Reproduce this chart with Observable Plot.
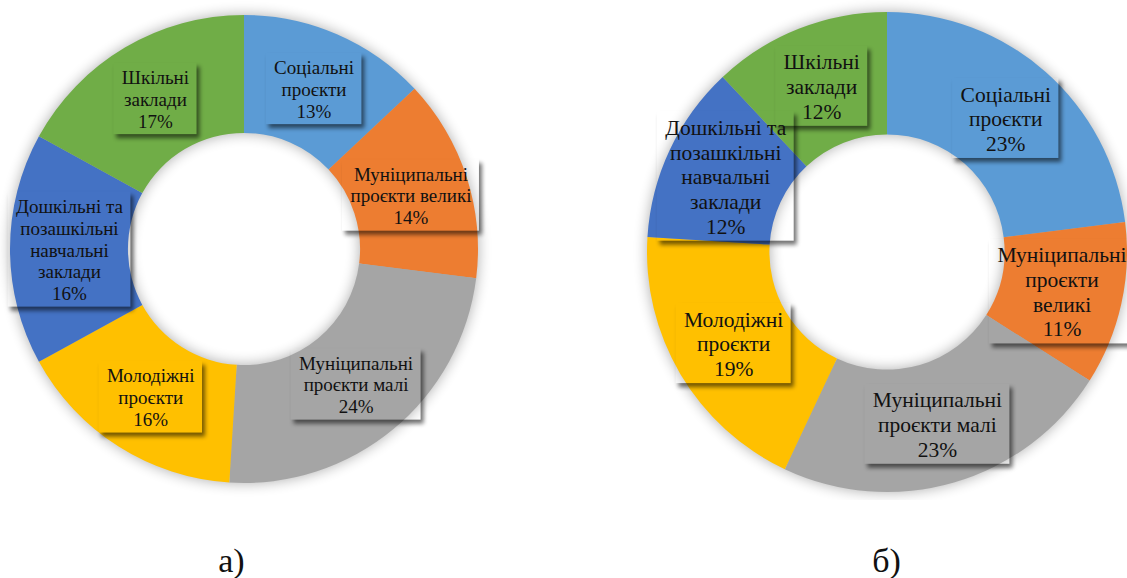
<!DOCTYPE html>
<html>
<head>
<meta charset="utf-8">
<script src="https://cdn.jsdelivr.net/npm/d3@7"></script>
<script src="https://cdn.jsdelivr.net/npm/@observablehq/plot@0.6"></script>
<style>
  html, body { margin: 0; padding: 0; background: #fff; }
  #wrap { position: relative; width: 1127px; height: 578px; overflow: hidden; background: #fff; }
  #wrap svg { position: absolute; top: 0; background: transparent; }
  .cap { position: absolute; width: 200px; text-align: center;
         font-family: "Liberation Serif", "Times New Roman", Tinos, "DejaVu Serif", serif;
         font-size: 34px; line-height: 34px; color: #111; }
</style>
</head>
<body>
<div id="wrap"></div>
<script>
// ---- data ----
const categories = [
  "Соціальні проєкти",
  "Муніципальні проєкти великі",
  "Муніципальні проєкти малі",
  "Молодіжні проєкти",
  "Дошкільні та позашкільні навчальні заклади",
  "Шкільні заклади"
];
const labelLinesA = [
  ["Соціальні", "проєкти"],
  ["Муніципальні", "проєкти великі"],
  ["Муніципальні", "проєкти малі"],
  ["Молодіжні", "проєкти"],
  ["Дошкільні та", "позашкільні", "навчальні", "заклади"],
  ["Шкільні", "заклади"]
];
const labelLinesB = [
  ["Соціальні", "проєкти"],
  ["Муніципальні", "проєкти", "великі"],
  ["Муніципальні", "проєкти малі"],
  ["Молодіжні", "проєкти"],
  ["Дошкільні та", "позашкільні", "навчальні", "заклади"],
  ["Шкільні", "заклади"]
];
const valuesA = [13, 14, 24, 16, 16, 17];
const valuesB = [23, 11, 23, 19, 12, 12];
const colors = ["#5B9BD5", "#ED7D31", "#A5A5A5", "#FFC000", "#4472C4", "#70AD47"];
const captions = ["а)", "б)"];

// ---- layout ----
const FONT = '"Liberation Serif", "Times New Roman", Tinos, "DejaVu Serif", serif';
const charts = [
  { key: "a", values: valuesA, lines: labelLinesA, caption: captions[0],
    left: 0, width: 564, cx: 244, cy: 249, R: 234, inner: 0.496, fontSize: 19, capX: 231.5 },
  { key: "b", values: valuesB, lines: labelLinesB, caption: captions[1],
    left: 563, width: 564, cx: 324, cy: 252, R: 240, inner: 0.49, fontSize: 21.5, capX: 886.5 }
];
const LH = 1.15;

function labelData(chart) {
  const pie = d3.pie().sort(null).value(d => d)(chart.values);
  const rm = (1 + chart.inner) / 2;
  return pie.map((p, i) => {
    const a = (p.startAngle + p.endAngle) / 2;
    const lines = [...chart.lines[i], chart.values[i] + "%"];
    return { category: categories[i], x: rm * Math.sin(a), y: rm * Math.cos(a), lines, text: lines.join("\n") };
  });
}

function ringMark(chart) {
  return (index, scales) => {
    const cx = scales.x(0), cy = scales.y(0);
    const R = Math.abs(scales.x(1) - scales.x(0));
    const r = R * chart.inner;
    const arcs = d3.pie().sort(null).value(d => d)(chart.values);
    const arc = d3.arc().innerRadius(r).outerRadius(R);
    const g = d3.create("svg:g");
    const id = "halo-" + chart.key;
    g.append("defs").append("filter").attr("id", id)
      .attr("x", "-20%").attr("y", "-20%").attr("width", "140%").attr("height", "140%")
      .append("feGaussianBlur").attr("stdDeviation", 7);
    g.append("path")
      .attr("transform", `translate(${cx},${cy})`)
      .attr("d", d3.arc().innerRadius(r).outerRadius(R)({ startAngle: 0, endAngle: 2 * Math.PI }))
      .attr("fill", "#000").attr("opacity", 0.32).attr("filter", `url(#${id})`);
    g.append("g").attr("transform", `translate(${cx},${cy})`)
      .selectAll("path").data(arcs).join("path")
      .attr("d", arc).attr("fill", (d, i) => colors[i]);
    return g.node();
  };
}

function boxMark(chart, labels) {
  return (index, scales) => {
    const g = d3.create("svg:g");
    const ctx = document.createElement("canvas").getContext("2d");
    ctx.font = `${chart.fontSize}px ${FONT}`;
    const lh = chart.fontSize * LH;
    const padX = 8, padY = 3;
    const defs = g.append("defs");
    const fid = "sh-" + chart.key;
    defs.append("filter").attr("id", fid)
      .attr("x", "-20%").attr("y", "-20%").attr("width", "140%").attr("height", "140%")
      .append("feGaussianBlur").attr("stdDeviation", 2);
    labels.forEach((d, i) => {
      const px = scales.x(d.x), py = scales.y(d.y);
      const w = d3.max(d.lines, s => ctx.measureText(s).width) + 2 * padX;
      const h = d.lines.length * lh + 2 * padY;
      const x0 = px - w / 2, y0 = py - h / 2;
      const mid = `m-${chart.key}-${i}`;
      const m = defs.append("mask").attr("id", mid).attr("maskUnits", "userSpaceOnUse")
        .attr("x", x0 - 20).attr("y", y0 - 20).attr("width", w + 40).attr("height", h + 40);
      m.append("rect").attr("x", x0 - 20).attr("y", y0 - 20).attr("width", w + 40).attr("height", h + 40).attr("fill", "#fff");
      m.append("rect").attr("x", x0).attr("y", y0).attr("width", w).attr("height", h).attr("fill", "#000");
      g.append("g").attr("mask", `url(#${mid})`)
        .append("rect").attr("x", x0 + 3).attr("y", y0 + 4).attr("width", w).attr("height", h)
        .attr("fill", "#000").attr("opacity", 0.55).attr("filter", `url(#${fid})`);
    });
    return g.node();
  };
}

const wrap = document.getElementById("wrap");
charts.forEach(chart => {
  const labels = labelData(chart);
  const svg = Plot.plot({
    width: chart.width,
    height: 500,
    margin: 0,
    style: { background: "transparent", overflow: "hidden", fontFamily: FONT },
    x: { domain: [-1, 1], range: [chart.cx - chart.R, chart.cx + chart.R], axis: null },
    y: { domain: [-1, 1], range: [chart.cy + chart.R, chart.cy - chart.R], axis: null },
    marks: [
      ringMark(chart),
      boxMark(chart, labels),
      Plot.text(labels, {
        x: "x", y: "y", text: "text",
        fontSize: chart.fontSize, lineHeight: LH,
        fontFamily: FONT, fill: "#111", textAnchor: "middle"
      })
    ]
  });
  svg.style.left = chart.left + "px";
  wrap.appendChild(svg);
  const cap = document.createElement("div");
  cap.className = "cap";
  cap.textContent = chart.caption;
  cap.style.left = (chart.capX - 100) + "px";
  cap.style.top = "543.5px";
  wrap.appendChild(cap);
});
</script>
</body>
</html>
